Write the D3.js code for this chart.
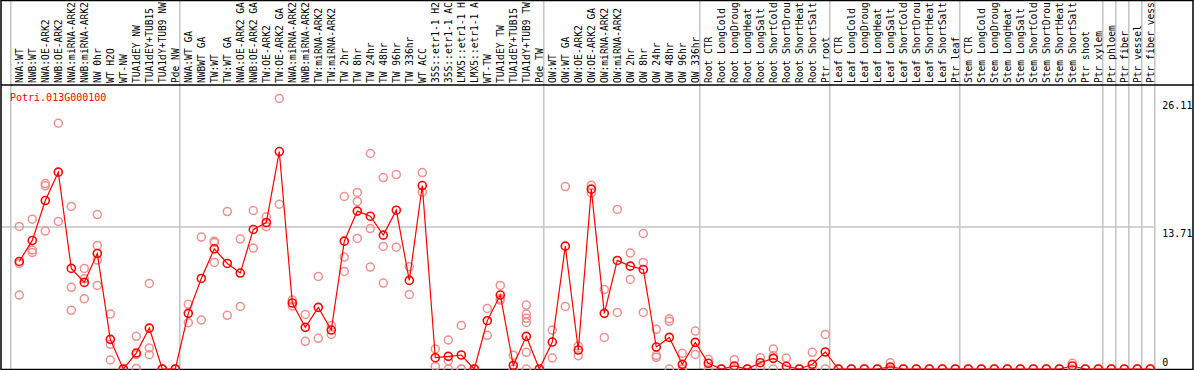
<!DOCTYPE html>
<html>
<head>
<meta charset="utf-8">
<script src="https://d3js.org/d3.v7.min.js"></script>
<style>
  body { margin: 0; background: #fff; }
  text { font-family: "DejaVu Sans Mono", monospace; font-size: 10px; }
  text.lab { font-size: 9.6px; }
</style>
</head>
<body>
<script>
// sample labels (as printed, cut to 14 characters)
var labels = ["NWA:WT", "NWB:WT", "NWA:OE-ARK2", "NWB:OE-ARK2", "NWA:miRNA-ARK2", "NWB:miRNA-ARK2", "NW 0hr", "WT H2O", "WT-NW", "TUA1dEY NW", "TUA1dEY+TUB15", "TUA1dY+TUB9 NW", "Pde NW",
  "NWA:WT GA", "NWBWT GA", "TW:WT", "TW:WT GA", "NWA:OE-ARK2 GA", "NWB:OE-ARK2 GA", "TW:OE-ARK2", "TW:OE-ARK2 GA", "NWA:miRNA-ARK2", "NWB:miRNA-ARK2", "TW:miRNA-ARK2", "TW:miRNA-ARK2", "TW 2hr", "TW 8hr", "TW 24hr", "TW 48hr", "TW 96hr", "TW 336hr", "WT ACC", "35S::etr1-1 H2", "35S::etr1-1 AC", "LMX5::etr1-1 H", "LMX5::etr1-1 A", "WT-TW", "TUA1dEY TW", "TUA1dEY+TUB15", "TUA1dY+TUB9 TW", "Pde TW",
  "OW:WT", "OW:WT GA", "OW:OE-ARK2", "OW:OE-ARK2 GA", "OW:miRNA-ARK2", "OW:miRNA-ARK2", "OW 2hr", "OW 8hr", "OW 24hr", "OW 48hr", "OW 96hr", "OW 336hr",
  "Root CTR", "Root LongCold", "Root LongDroug", "Root LongHeat", "Root LongSalt", "Root ShortCold", "Root ShortDrou", "Root ShortHeat", "Root ShortSalt", "Ptr root",
  "Leaf CTR", "Leaf LongCold", "Leaf LongDroug", "Leaf LongHeat", "Leaf LongSalt", "Leaf ShortCold", "Leaf ShortDrou", "Leaf ShortHeat", "Leaf ShortSalt", "Ptr leaf",
  "Stem CTR", "Stem LongCold", "Stem LongDroug", "Stem LongHeat", "Stem LongSalt", "Stem ShortCold", "Stem ShortDrou", "Stem ShortHeat", "Stem ShortSalt", "Ptr shoot", "Ptr xylem",
  "Ptr phloem", "Ptr fiber", "Ptr vessel", "Ptr fiber vess"];

// number of samples in each group
var groupSizes = [13, 28, 12, 10, 10, 11, 1, 1, 1, 1];

// mean expression per sample
var means = [10.38, 12.41, 16.26, 19.0, 9.71, 8.36, 11.15, 2.86, 0, 1.54, 3.95, 0, 0,
  5.37, 8.74, 11.6, 10.19, 9.26, 13.47, 14.14, 20.99, 6.37, 4.02, 5.95, 3.76, 12.34, 15.24, 14.75, 12.92, 15.33, 8.55, 17.71, 1.09, 1.22, 1.35, 0, 4.66, 7.14, 0.35, 3.15, 0,
  2.6, 11.86, 1.83, 17.36, 5.37, 10.48, 9.93, 9.61, 2.12, 3.05, 0.45, 2.57,
  0.55, 0, 0.29, 0, 0.61, 1.03, 0.26, 0, 0.45, 1.64,
  0, 0, 0, 0, 0.2, 0, 0, 0, 0, 0,
  0, 0, 0, 0, 0, 0, 0, 0, 0.29, 0, 0,
  0, 0, 0, 0];

// replicate values per sample
var reps = [[13.76, 10.19, 7.14], [14.46, 11.48, 11.25], [17.9, 17.68, 13.31], [23.72, 14.24], [15.69, 7.88, 5.66], [9.71, 8.71, 6.78], [14.91, 11.93, 10.51, 8.07], [5.3, 2.38, 0.87], [0, 0], [3.15, 0.06, 1.4], [8.26, 2.03, 1.38], [0, 0], [0, 0],
  [6.24, 4.47], [12.73, 4.73], [12.34, 12.2, 10.29], [15.2, 5.18], [12.54, 6.04], [15.3, 11.67], [14.69, 13.73], [26.11, 15.91], [6.65, 6.07], [5.27, 2.67], [8.94, 2.96], [4.21, 3.34], [16.65, 10.8, 9.42], [17.04, 16.17, 12.6], [20.8, 13.56, 9.84], [18.48, 11.83, 8.29], [18.77, 11.76], [9.87, 7.2], [18.96, 17.07], [1.93, 0.25], [2.8, 0.8, 0], [4.21, 0, 0], [0], [5.85, 3.25], [8.07, 6.65, 6.8], [1.32, 0], [6.17, 5.3, 4.89, 4.5, 1.61, 0], [0],
  [3.76, 1.06], [17.61, 6.04], [2.22, 1.29], [17.74, 17.0], [7.68, 3.05], [15.4, 5.46], [11.19, 8.65], [13.08, 10.29, 5.46], [3.83, 1.32, 1.13], [4.85, 4.6, 0], [1.51, 0, 0], [3.66, 1.41],
  [0.93, 0], [0], [0.9, 0], [0], [1.09, 0.1], [1.93, 1.29, 0], [1.06, 0], [0], [1.61, 0], [3.34, 0],
  [0], [0], [0], [0], [0.6, 0], [0], [0], [0], [0], [0],
  [0], [0], [0], [0], [0], [0], [0], [0], [0.55, 0], [0], [0],
  [0], [0], [0], [0]];

// y axis tick labels
var tickValues = [26.11, 13.71, 0];
var geneName = "Potri.013G000100";

// set the size of the graph
var width = 1194, height = 370, labelBottom = 85, plotBottom = 369;

var x = d3.scaleLinear().domain([0, labels.length - 1]).range([19.3, 19.3 + 13 * (labels.length - 1)]);
var y = d3.scaleLinear().domain([0, d3.max(reps, function(r) { return d3.max(r); })]).range([plotBottom, 98.5]);

var svg = d3.select("body").append("svg")
    .attr("width", width)
    .attr("height", height);

// group boundaries
var bounds = [0], acc = 0;
groupSizes.forEach(function(s) { acc += s; bounds.push(acc); });

svg.selectAll(".vgrid").data(bounds).enter().append("line")
    .attr("class", "vgrid")
    .attr("x1", function(d) { return x(d) - 8.5; })
    .attr("x2", function(d) { return x(d) - 8.5; })
    .attr("y1", 0)
    .attr("y2", plotBottom)
    .style("stroke", "#c4c4c4")
    .style("stroke-width", 1.5);

// middle horizontal grid line
svg.append("line")
    .attr("x1", 1).attr("x2", x(labels.length) - 8.5)
    .attr("y1", y(tickValues[1])).attr("y2", y(tickValues[1]))
    .style("stroke", "#c4c4c4")
    .style("stroke-width", 1.5);

// rotated sample labels
svg.selectAll(".lab").data(labels).enter().append("text")
    .attr("class", "lab")
    .attr("transform", function(d, i) { return "translate(" + x(i) + "," + (labelBottom - 2) + ") rotate(-90)"; })
    .attr("dy", "0.35em")
    .style("fill", "#000")
    .text(function(d) { return d; });

// frame
svg.append("rect")
    .attr("x", 1).attr("y", 0.5)
    .attr("width", 1192).attr("height", plotBottom)
    .style("fill", "none")
    .style("stroke", "#000")
    .style("stroke-width", 1.5);

svg.append("line")
    .attr("x1", 1).attr("x2", 1193)
    .attr("y1", labelBottom).attr("y2", labelBottom)
    .style("stroke", "#000")
    .style("stroke-width", 1.5);

// y value labels on the right
svg.selectAll(".ytick").data(tickValues).enter().append("text")
    .attr("class", "ytick")
    .attr("x", x(labels.length) - 1)
    .attr("y", function(d) { return Math.min(y(d) + 10, plotBottom - 3); })
    .style("fill", "#000")
    .text(function(d) { return d; });

// gene name
svg.append("text")
    .attr("x", 10)
    .attr("y", 101)
    .style("fill", "red")
    .text(geneName);

// replicate points
var repPoints = [];
reps.forEach(function(r, i) { r.forEach(function(v) { repPoints.push({i: i, v: v}); }); });

svg.selectAll(".rep").data(repPoints).enter().append("circle")
    .attr("class", "rep")
    .attr("cx", function(d) { return x(d.i); })
    .attr("cy", function(d) { return y(d.v); })
    .attr("r", 4)
    .style("fill", "none")
    .style("stroke", "#ee9090")
    .style("stroke-width", 1.5);

// mean line
var meanLine = d3.line()
    .x(function(d, i) { return x(i); })
    .y(function(d) { return y(d); });

svg.append("path")
    .datum(means)
    .attr("d", meanLine)
    .style("fill", "none")
    .style("stroke", "red")
    .style("stroke-width", 1.2);

svg.selectAll(".mean").data(means).enter().append("circle")
    .attr("class", "mean")
    .attr("cx", function(d, i) { return x(i); })
    .attr("cy", function(d) { return y(d); })
    .attr("r", 4)
    .style("fill", "none")
    .style("stroke", "red")
    .style("stroke-width", 1.6);
</script>
</body>
</html>
